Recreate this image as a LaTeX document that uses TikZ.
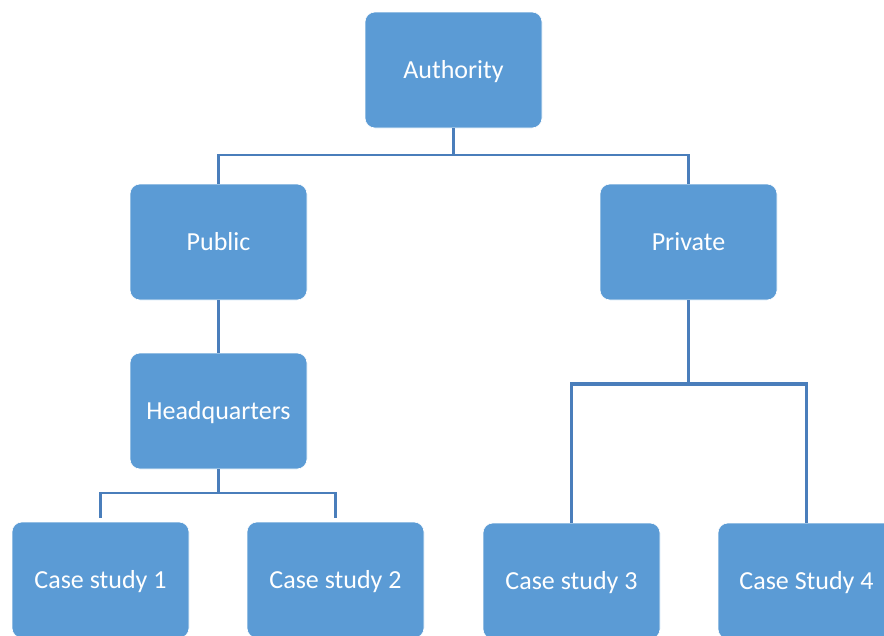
\documentclass[tikz,border=0pt]{standalone}
\usepackage{fontspec}
\setmainfont{Carlito}
\definecolor{boxfill}{HTML}{5B9BD5}
\definecolor{linkline}{HTML}{4A7EBB}
\begin{document}
\begin{tikzpicture}[x=1pt,y=-1pt,
  orgbox/.style={fill=boxfill, draw=white, line width=0.6pt, rounded corners=10pt,
    minimum width=177pt, minimum height=116pt, inner sep=0pt,
    text height=17pt, text depth=0pt,
    text=white, font=\fontsize{26}{30}\selectfont},
  link/.style={draw=linkline, line width=2.6pt},
  thicklink/.style={draw=linkline, line width=3.4pt}]
\useasboundingbox (0,0) rectangle (884,635);
\clip (0,0) rectangle (884,635);

% boxes
\node[orgbox] (auth) at (453.5,70) {Authority};
\node[orgbox] (pub)  at (218.5,242) {Public};
\node[orgbox] (priv) at (688.5,242) {Private};
\node[orgbox] (hq)   at (218.5,411) {Headquarters};
\node[orgbox] (cs1)  at (100.5,580) {Case study 1};
\node[orgbox] (cs2)  at (335.5,580) {Case study 2};
\node[orgbox] (cs3)  at (571.5,581) {Case study 3};
\node[orgbox] (cs4)  at (806.5,581) {Case Study 4};

% junction points of the buses
\coordinate (busA) at (453.5,155);
\coordinate (busH) at (218.5,493);
\coordinate (busP) at (688.5,384);

% Authority -> Public / Private
\draw[link] (auth.south) -- (busA);
\draw[link] (pub.north) |- (busA) -| (priv.north);

% Public -> Headquarters
\draw[link] (pub.south) -- (hq.north);

% Headquarters -> case studies 1 and 2
\draw[link] (hq.south) -- (busH);
\draw[link, shorten <=4pt, shorten >=4pt] (cs1.north) |- (busH) -| (cs2.north);

% Private -> case studies 3 and 4
\draw[thicklink] (priv.south) -- (busP);
\draw[thicklink] (cs3.north) |- (busP) -| (cs4.north);
\end{tikzpicture}
\end{document}
